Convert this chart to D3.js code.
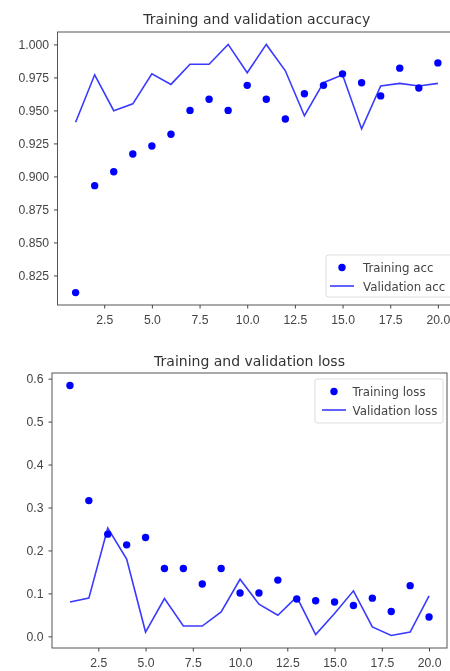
<!DOCTYPE html>
<html>
<head>
<meta charset="utf-8">
<script src="https://cdn.jsdelivr.net/npm/d3@7"></script>
<style>
  body { margin: 0; background: #fff; }
  svg { font-family: "DejaVu Sans", sans-serif; filter: blur(0.45px); }
  .tick text { fill: #444; font-size: 12.2px; }
  .tick line { stroke: #444; }
  .domain { stroke: #555; }
</style>
</head>
<body>
<div id="chart"></div>
<script>
const epochs = d3.range(1, 21)

const trainAcc = [0.812, 0.893, 0.9035, 0.917, 0.923, 0.932, 0.950, 0.9585, 0.950, 0.969,
    0.9585, 0.9435, 0.9626, 0.969, 0.9777, 0.971, 0.961, 0.982, 0.967, 0.986]
const valAcc = [0.941, 0.977, 0.9498, 0.955, 0.9777, 0.9697, 0.985, 0.985, 1.000, 0.9785,
    1.000, 0.980, 0.946, 0.971, 0.977, 0.936, 0.9685, 0.9705, 0.9685, 0.9705]

const trainLoss = [0.584, 0.316, 0.238, 0.213, 0.230, 0.158, 0.158, 0.122, 0.158, 0.101,
    0.101, 0.131, 0.087, 0.083, 0.080, 0.072, 0.089, 0.058, 0.118, 0.045]
const valLoss = [0.080, 0.089, 0.252, 0.180, 0.010, 0.088, 0.024, 0.024, 0.057, 0.133,
    0.075, 0.049, 0.092, 0.004, 0.053, 0.106, 0.022, 0.002, 0.010, 0.094]

const xTicks = [2.5, 5.0, 7.5, 10.0, 12.5, 15.0, 17.5, 20.0]
const accTicks = [0.825, 0.850, 0.875, 0.900, 0.925, 0.950, 0.975, 1.000]
const lossTicks = [0.0, 0.1, 0.2, 0.3, 0.4, 0.5, 0.6]

const svg = d3.select('#chart')
    .append('svg')
    .attr('width', 450)
    .attr('height', 671)

// pad a domain by 5% like matplotlib's auto margins
function padded(values) {
    const lo = d3.min(values), hi = d3.max(values)
    const m = (hi - lo) * 0.05
    return [lo - m, hi + m]
}

function drawPanel(opts) {
    const x = d3.scaleLinear()
        .domain(padded(epochs))
        .range([opts.left, opts.right])
    const y = d3.scaleLinear()
        .domain(padded(opts.train.concat(opts.val)))
        .range([opts.bottom, opts.top])

    const g = svg.append('g')

    g.append('rect')
        .attr('x', opts.left)
        .attr('y', opts.top)
        .attr('width', opts.right - opts.left)
        .attr('height', opts.bottom - opts.top)
        .attr('fill', 'none')
        .attr('stroke', '#555')
        .attr('stroke-width', 1)

    g.append('g')
        .attr('transform', `translate(0,${opts.bottom})`)
        .call(d3.axisBottom(x).tickValues(xTicks).tickFormat(d3.format('.1f')).tickSize(3.5).tickPadding(7))
        .call(a => a.select('.domain').remove())

    g.append('g')
        .attr('transform', `translate(${opts.left},0)`)
        .call(d3.axisLeft(y).tickValues(opts.yTicks).tickFormat(opts.yFormat).tickSize(3.5).tickPadding(5))
        .call(a => a.select('.domain').remove())

    g.append('text')
        .attr('x', (opts.left + opts.right) / 2)
        .attr('y', opts.top - opts.titleGap)
        .attr('text-anchor', 'middle')
        .attr('font-size', 14)
        .attr('fill', '#333')
        .text(opts.title)

    const line = d3.line()
        .x((d, i) => x(epochs[i]))
        .y(d => y(d))

    g.append('path')
        .datum(opts.val)
        .attr('d', line)
        .attr('fill', 'none')
        .attr('stroke', '#3a3aff')
        .attr('stroke-width', 1.6)

    g.selectAll('circle.pt')
        .data(opts.train)
        .enter()
        .append('circle')
        .attr('class', 'pt')
        .attr('cx', (d, i) => x(epochs[i]))
        .attr('cy', d => y(d))
        .attr('r', 3.7)
        .attr('fill', '#0000ff')

    // legend
    const lg = opts.legend
    g.append('rect')
        .attr('x', lg.x)
        .attr('y', lg.y)
        .attr('width', lg.w)
        .attr('height', lg.h)
        .attr('rx', 2)
        .attr('fill', '#fff')
        .attr('fill-opacity', 0.8)
        .attr('stroke', '#ddd')
    g.append('circle')
        .attr('cx', lg.x + lg.markX)
        .attr('cy', lg.y + 12.5)
        .attr('r', 3.7)
        .attr('fill', '#0000ff')
    g.append('line')
        .attr('x1', lg.x + lg.markX - 12)
        .attr('x2', lg.x + lg.markX + 12)
        .attr('y1', lg.y + 31)
        .attr('y2', lg.y + 31)
        .attr('stroke', '#3a3aff')
        .attr('stroke-width', 1.6)
    g.append('text')
        .attr('x', lg.x + lg.textX)
        .attr('y', lg.y + 17)
        .attr('font-size', 11.8)
        .attr('fill', '#444')
        .text(lg.labels[0])
    g.append('text')
        .attr('x', lg.x + lg.textX)
        .attr('y', lg.y + 35.5)
        .attr('font-size', 11.8)
        .attr('fill', '#444')
        .text(lg.labels[1])
}

drawPanel({
    title: 'Training and validation accuracy', titleGap: 8.5,
    left: 57.5, right: 456, top: 32, bottom: 305,
    train: trainAcc, val: valAcc,
    yTicks: accTicks, yFormat: d3.format('.3f'),
    legend: {x: 326, y: 255, w: 135, h: 42, markX: 16, textX: 37, labels: ['Training acc', 'Validation acc']}
})

drawPanel({
    title: 'Training and validation loss', titleGap: 7,
    left: 52, right: 447, top: 373, bottom: 648,
    train: trainLoss, val: valLoss,
    yTicks: lossTicks, yFormat: d3.format('.1f'),
    legend: {x: 315, y: 379, w: 128, h: 44, markX: 19, textX: 37.5, labels: ['Training loss', 'Validation loss']}
})
</script>
</body>
</html>
